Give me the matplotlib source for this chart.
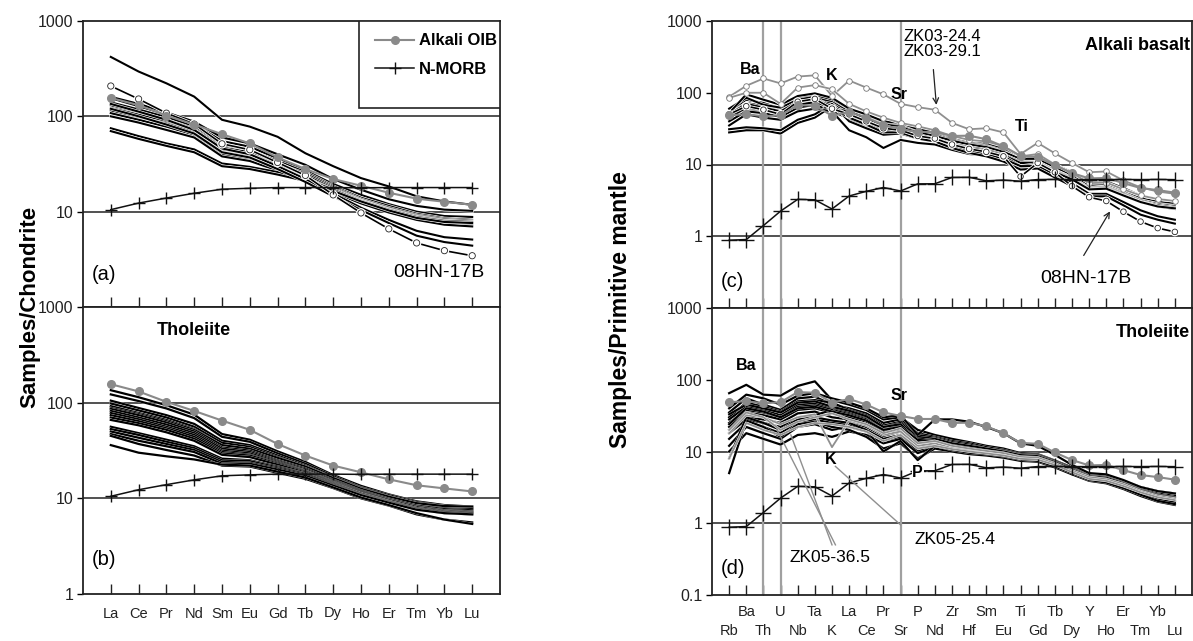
import numpy as np
import matplotlib.pyplot as plt
import matplotlib.patheffects as pe
from matplotlib.patches import Rectangle
from matplotlib.lines import Line2D
from matplotlib.ticker import NullLocator

plt.rcParams['font.family'] = ['Liberation Sans', 'DejaVu Sans']

# element order
ree = ['La', 'Ce', 'Pr', 'Nd', 'Sm', 'Eu', 'Gd', 'Tb', 'Dy', 'Ho', 'Er', 'Tm', 'Yb', 'Lu']
spider = ['Rb', 'Ba', 'Th', 'U', 'Nb', 'Ta', 'K', 'La', 'Ce', 'Pr', 'Sr', 'P', 'Nd', 'Zr',
          'Hf', 'Sm', 'Eu', 'Ti', 'Gd', 'Tb', 'Dy', 'Y', 'Ho', 'Er', 'Tm', 'Yb', 'Lu']

# reference curves
oib_ree = [156, 131, 102, 82, 65, 52, 37, 28, 22, 18.7, 15.8, 13.7, 12.7, 11.8]
nmorb_ree = [10.5, 12.3, 13.9, 15.6, 17.2, 17.6, 17.9, 17.9, 17.9, 17.8, 17.9, 17.9, 17.9, 17.9]
oib_pm = [48.8, 50.1, 47, 48.6, 67.3, 65.9, 48, 53.9, 45.1, 35.1, 31.3, 28.4, 28.4, 25,
          25.2, 22.5, 17.9, 13.2, 12.8, 9.7, 7.6, 6.4, 6.5, 5.5, 4.7, 4.4, 4.05]
nmorb_pm = [0.88, 0.9, 1.41, 2.24, 3.27, 3.22, 2.4, 3.64, 4.23, 4.78, 4.27, 5.37, 5.39, 6.6,
            6.63, 5.92, 6.07, 5.85, 6.17, 6.2, 6.17, 6.15, 6.16, 6.19, 6.16, 6.19, 6.15]

# (a) alkali basalt, chondrite normalised
alk_ree = [
    [420, 295, 222, 161, 92, 78, 61, 41, 30, 22.5, 18.4, 14.5, 12.8, 11.8],
    [155, 128, 104, 84, 55, 48, 36, 27, 19.5, 15, 12, 10, 9, 8.8],
    [140, 118, 98, 78, 50, 44, 34, 26, 18.5, 14, 11.5, 9.5, 8.5, 8.2],
    [130, 110, 92, 74, 47, 42, 32, 25, 18, 13.5, 11, 9.2, 8.3, 8.0],
    [122, 104, 88, 72, 45, 40, 31, 24, 17.5, 13.2, 10.7, 9, 8.1, 7.8],
    [115, 98, 84, 68, 42, 38, 29.5, 23, 17, 13, 10.5, 8.8, 7.9, 7.6],
    [108, 92, 78, 64, 40, 36, 28.5, 22.5, 16.5, 12.6, 10.2, 8.5, 7.6, 7.3],
    [100, 86, 72, 60, 38, 34, 27, 21.5, 16, 12.2, 9.8, 8.2, 7.3, 7.0],
    [75, 62, 52, 45, 32, 29.5, 26, 22, 17, 13, 10.5, 8.8, 8, 7.8],
    [70, 58, 49, 42, 30, 28, 24.5, 21, 16.5, 12.8, 10.3, 8.6, 7.8, 7.6],
    [135, 112, 92, 72, 46, 40, 30, 22, 15.5, 11, 8.2, 6.3, 5.4, 5.1],
    [120, 100, 82, 66, 42, 37, 28, 20.5, 14.5, 10.4, 7.6, 5.6, 4.8, 4.4],
    [160, 135, 110, 88, 60, 52, 40, 31, 22, 17, 13.5, 11.5, 10.5, 10.2],
]
hn17b_ree = [208, 152, 108, 83, 51.5, 44.6, 32.8, 24, 15, 9.7, 6.6, 4.7, 3.9, 3.45]

# (b) tholeiite, chondrite normalised
thol_ree = [
    [135, 114, 94, 75, 47, 41, 31, 24, 17.5, 13.5, 11, 9.3, 8.5, 8.2],
    [122, 104, 87, 69, 44, 39, 29.5, 23, 17, 13, 10.8, 9.1, 8.3, 8.0],
    [105, 88, 74, 60, 40, 36, 28, 22, 16.5, 12.8, 10.5, 8.9, 8.1, 7.9],
    [98, 83, 70, 56, 38, 34.5, 27, 21.5, 16.2, 12.5, 10.3, 8.7, 8.0, 7.8],
    [92, 78, 66, 53, 36, 33, 26, 21, 16, 12.3, 10.1, 8.6, 7.9, 7.7],
    [88, 76, 64, 52, 36, 33, 26.5, 21.5, 16.3, 12.6, 10.4, 8.9, 8.3, 8.2],
    [86, 74, 62, 50, 34, 31.5, 25, 20.5, 15.6, 12.1, 9.9, 8.4, 7.7, 7.5],
    [82, 70, 59, 48, 33, 30.5, 24.5, 20, 15.3, 11.9, 9.7, 8.2, 7.5, 7.3],
    [78, 67, 56, 46, 31.5, 29.5, 24, 19.5, 15, 11.7, 9.6, 8.1, 7.4, 7.2],
    [74, 64, 54, 44, 30.5, 28.5, 23.5, 19.3, 14.8, 11.5, 9.4, 7.9, 7.2, 7.0],
    [70, 61, 52, 42, 29.5, 28, 23, 19, 14.6, 11.3, 9.3, 7.8, 7.1, 6.9],
    [66, 58, 49, 40, 28.5, 27, 22.5, 18.6, 14.4, 11.2, 9.2, 7.7, 7.0, 6.8],
    [56, 48, 41, 35, 26, 25, 21.5, 18.2, 14.2, 11.2, 9.3, 7.9, 7.3, 7.1],
    [53, 46, 39, 33.5, 25, 24.5, 21, 18, 14, 11, 9.2, 7.8, 7.2, 7.0],
    [50, 43, 37, 32, 24, 23.5, 20.5, 17.6, 13.8, 10.9, 9.1, 7.7, 7.1, 6.9],
    [47, 40, 35, 30.5, 23, 23, 20, 17.2, 13.6, 10.8, 9.0, 7.6, 7.0, 6.8],
    [45, 37, 32, 28, 22, 21.5, 18.5, 16, 12.8, 10, 8.4, 6.8, 6.0, 5.6],
    [36, 30, 27.5, 25.5, 22.5, 22, 19, 16.5, 13, 10.2, 8.5, 7.0, 6.0, 5.4],
]

# (c) alkali basalt, primitive mantle normalised
alk_pm = [
    [55, 80, 72, 60, 85, 92, 80, 58, 48, 38, 36, 30, 28, 24, 21, 19, 16, 12, 12.5, 9.5, 7.5, 5.4, 5.6, 4.5, 3.6, 3.2, 3.0],
    [50, 72, 65, 55, 78, 85, 74, 54, 45, 36, 34, 29, 26, 22, 19.5, 18, 15, 11.5, 11.8, 9.0, 7.0, 5.1, 5.3, 4.3, 3.4, 3.0, 2.8],
    [45, 65, 60, 50, 72, 78, 70, 50, 42, 33, 32, 27, 25, 21, 18.5, 17, 14.5, 11, 11.3, 8.6, 6.7, 4.9, 5.1, 4.1, 3.3, 2.9, 2.7],
    [60, 85, 68, 62, 80, 88, 60, 55, 44, 35, 30, 26, 24, 20, 18, 16.5, 14, 10.5, 11, 8.4, 6.6, 4.8, 5.0, 4.0, 3.2, 2.8, 2.6],
    [48, 58, 55, 48, 66, 70, 58, 47, 40, 32, 33, 28, 25, 21.5, 19, 17.5, 15, 12, 12, 9.2, 7.2, 5.2, 5.4, 4.4, 3.5, 3.1, 2.9],
    [40, 55, 52, 46, 62, 68, 55, 44, 37, 30, 31, 26, 23, 19.5, 17.5, 16, 13.8, 10.8, 10.8, 8.3, 6.5, 4.7, 4.9, 3.9, 3.1, 2.7, 2.5],
    [52, 95, 80, 68, 90, 98, 85, 60, 50, 40, 38, 31, 29, 25, 22, 20, 17, 13, 13, 10, 7.8, 5.6, 5.8, 4.7, 3.7, 3.3, 3.1],
    [28, 30, 30, 27, 38, 45, 65, 42, 35, 28, 29, 25, 22, 19, 17, 15.5, 13.5, 10.5, 10.5, 8.2, 6.4, 4.6, 4.8, 3.8, 3.0, 2.7, 2.5],
    [31, 33, 32, 30, 42, 50, 70, 40, 32, 26, 27, 23, 21, 18, 16, 15, 13, 9.5, 10.2, 8.0, 6.3, 4.5, 4.7, 3.7, 3.0, 2.6, 2.4],
    [35, 50, 45, 42, 55, 60, 55, 30, 24, 17, 22, 20, 19, 16, 14, 13.5, 12, 9, 9.8, 7.8, 6.2, 4.5, 4.6, 3.7, 3.0, 2.6, 2.45],
    [50, 70, 62, 55, 75, 80, 65, 48, 38, 30, 30, 25, 22, 18, 15.5, 14, 12, 9.5, 9.5, 7.2, 5.5, 3.9, 3.9, 3.0, 2.3, 1.9, 1.7],
    [45, 62, 58, 50, 68, 74, 62, 45, 36, 28, 28, 23, 21, 17, 14.5, 13, 11, 8.5, 8.8, 6.6, 5.0, 3.6, 3.6, 2.7, 2.0, 1.7, 1.5],
]
zk03_pm = [
    [88, 125, 158, 135, 168, 175, 90, 148, 118, 95, 70, 63, 58, 38, 31, 32, 28, 14, 20, 14.3, 10.5, 7.8, 8.0, 6.0, 4.8, 4.2, 3.9],
    [85, 100, 100, 70, 118, 128, 112, 70, 55, 45, 38, 34, 30, 25, 22, 21, 18, 13, 14, 10, 7.6, 5.5, 5.6, 4.5, 3.7, 3.3, 3.1],
]
hn17b_pm = [50, 65, 58, 50, 75, 82, 60, 50, 40, 32, 30, 25, 23, 19, 16.5, 15, 13, 6.8, 10.5, 7.8,
            5.0, 3.5, 3.1, 2.2, 1.6, 1.3, 1.15]

# (d) tholeiite, primitive mantle normalised
thol_pm = [
    [65, 85, 62, 60, 82, 95, 52, 45, 38, 28, 30, 20, 17, 15, 13.5, 12, 11, 9.5, 9.2, 7.5, 6.0, 4.8, 4.6, 3.9, 3.2, 2.8, 2.6],
    [35, 55, 45, 38, 55, 58, 45, 40, 34, 25, 28, 18, 16, 14, 13, 11.5, 10.5, 9.2, 9.0, 7.4, 5.8, 4.7, 4.5, 3.8, 3.1, 2.7, 2.5],
    [30, 48, 42, 36, 50, 52, 48, 38, 32, 23, 26, 17, 15.5, 13.5, 12.5, 11, 10.2, 9, 8.8, 7.2, 5.7, 4.6, 4.4, 3.7, 3.0, 2.6, 2.4],
    [28, 42, 38, 32, 45, 47, 40, 35, 30, 22, 25, 16, 15, 13, 12, 10.8, 10, 8.8, 8.6, 7.0, 5.6, 4.5, 4.3, 3.6, 2.9, 2.5, 2.3],
    [25, 38, 35, 30, 42, 44, 38, 33, 28, 20, 23, 15, 14.5, 12.5, 11.5, 10.5, 9.7, 8.6, 8.4, 6.9, 5.5, 4.4, 4.2, 3.5, 2.85, 2.45, 2.25],
    [22, 35, 32, 28, 38, 40, 35, 30, 26, 19, 21, 14, 14, 12, 11, 10.2, 9.4, 8.4, 8.2, 6.8, 5.4, 4.35, 4.1, 3.45, 2.8, 2.4, 2.2],
    [20, 30, 28, 25, 34, 36, 30, 28, 24, 18, 20, 13, 13.5, 11.5, 10.6, 10, 9.2, 8.2, 8.0, 6.6, 5.3, 4.3, 4.0, 3.4, 2.75, 2.35, 2.15],
    [18, 28, 25, 22, 30, 32, 38, 26, 22, 16.5, 19, 12, 13, 11, 10.2, 9.6, 9.0, 8.0, 7.8, 6.5, 5.2, 4.2, 3.9, 3.3, 2.7, 2.3, 2.1],
    [15, 25, 22, 18, 26, 28, 25, 24, 20, 15, 17, 11, 12.5, 10.6, 9.8, 9.4, 8.8, 7.8, 7.6, 6.4, 5.1, 4.1, 3.85, 3.25, 2.65, 2.25, 2.05],
    [12, 22, 18, 15, 22, 24, 20, 22, 19, 14, 16, 10, 12, 10.3, 9.5, 9.2, 8.6, 7.6, 7.5, 6.3, 5.0, 4.05, 3.8, 3.2, 2.6, 2.2, 2.0],
    [10, 18, 15, 12.5, 17, 18, 16, 19, 17, 13, 15, 9.5, 11.5, 10, 9.3, 9.0, 8.4, 7.5, 7.4, 6.2, 4.9, 4.0, 3.75, 3.15, 2.55, 2.15, 1.95],
    [5, 27, 22, 16, 24, 26, 22, 20, 16, 11, 13, 8, 11, 10, 9.2, 8.8, 8.2, 7.4, 7.2, 6.0, 4.8, 3.9, 3.6, 3.0, 2.4, 2.0, 1.8],
    [8, 30, 25, 20, 28, 30, 27, 25, 20, 10, 14, 7.6, 12, 10.5, 9.6, 9.2, 8.6, 7.7, 7.4, 6.2, 5.0, 4.0, 3.7, 3.1, 2.5, 2.05, 1.85],
    [40, 62, 55, 45, 60, 65, 55, 48, 40, 30, 32, 17, 28, 28, 26, 22, 18, 13, 12, 9, 6.5, 5, 4.8, 4, 3.2, 2.8, 2.6],
    [33, 45, 40, 35, 48, 50, 42, 37, 31, 22, 24, 14, 15, 13, 12, 11, 10, 8.9, 8.6, 7.1, 5.6, 4.5, 4.3, 3.6, 2.9, 2.5, 2.3],
    [24, 40, 36, 30, 40, 42, 36, 32, 27, 20, 22, 14.5, 14, 12.2, 11.2, 10.3, 9.6, 8.5, 8.3, 6.9, 5.45, 4.4, 4.15, 3.5, 2.85, 2.45, 2.25],
]
zk05_pm = [
    [18, 32, 30, 24, 30, 33, 11.5, 27, 23, 17, 19, 12, 13, 11.2, 10.4, 9.8, 9.1, 8.1, 7.9, 6.6, 5.3, 4.3, 4.0, 3.4, 2.75, 2.35, 2.15],
    [20, 35, 30, 20, 26, 30, 34, 28, 24, 18, 21, 13, 14, 12, 11, 10.2, 9.5, 8.4, 8.2, 6.8, 5.4, 4.4, 4.1, 3.5, 2.8, 2.4, 2.2],
    [8, 25, 20, 17, 22, 25, 24, 22, 19, 14, 17, 11, 12, 10.8, 10, 9.4, 8.8, 7.9, 7.7, 6.5, 5.15, 4.15, 3.9, 3.3, 2.7, 2.3, 2.1],
]

W, H = 1193, 641
fig = plt.figure(figsize=(W / 100, H / 100), dpi=100)


def box(l, t, r, b):
    return [l / W, 1 - b / H, (r - l) / W, (b - t) / H]


ax_a = fig.add_axes(box(83, 21, 500, 307))
ax_b = fig.add_axes(box(83, 307, 500, 594))
ax_c = fig.add_axes(box(712, 21, 1192, 308))
ax_d = fig.add_axes(box(712, 308, 1192, 595))

xr = np.arange(1, len(ree) + 1)
xs = np.arange(1, len(spider) + 1)


def halo(w):
    return [pe.Stroke(linewidth=w, foreground='white'), pe.Normal()]


def setup(ax, n, ylo, yt, grid_at):
    ax.set_yscale('log')
    ax.set_ylim(ylo, 1000)
    ax.set_xlim(0, n + 1)
    ax.set_xticks(range(1, n + 1))
    ax.set_xticklabels([])
    ax.yaxis.set_minor_locator(NullLocator())
    ax.set_yticks(yt)
    ax.set_yticklabels([('%g' % v) for v in yt])
    ax.tick_params(axis='x', direction='in', length=7, width=1, color='#222')
    ax.tick_params(axis='y', direction='out', length=4, width=1, labelsize=11.5,
                   labelcolor='#222', pad=3)
    for s in ax.spines.values():
        s.set_linewidth(1.3)
        s.set_color('#222')
    for g in grid_at:
        ax.axhline(g, color='#333', lw=1.2, zorder=1)


def samples(ax, x, rows, color='black', lw=1.5, z=3, hw=2.4):
    for r in rows:
        ax.plot(x, r, color=color, lw=lw, zorder=z, path_effects=halo(hw))


def refs(ax, x, oib, nmorb, ms_plus=9):
    ax.plot(x, oib, color='#8a8a8a', lw=1.5, marker='o', ms=5.5, mfc='#8a8a8a',
            mec='#8a8a8a', zorder=6)
    ax.plot(x, nmorb, color='#111', lw=1.1, marker='+', ms=ms_plus, mew=1.0, zorder=6)


# ---- (a)
setup(ax_a, 14, 1, [10, 100, 1000], [10, 100])
samples(ax_a, xr, alk_ree)
ax_a.plot(xr, hn17b_ree, color='black', lw=1.2, marker='o', ms=4.5, mfc='white',
          mec='#222', mew=0.6, zorder=5, path_effects=halo(2.4))
refs(ax_a, xr, oib_ree, nmorb_ree)
ax_a.text(0.32, 2.2, '(a)', fontsize=14.5, va='center', ha='left')
ax_a.text(14.45, 2.3, '08HN-17B', fontsize=14, va='center', ha='right')
ax_a.add_patch(Rectangle((0.662, 0.696), 0.338, 0.304, transform=ax_a.transAxes,
                         facecolor='white', edgecolor='#222', lw=1.2, zorder=8))
handles = [Line2D([], [], color='#8a8a8a', lw=1.5, marker='o', ms=5.5),
           Line2D([], [], color='#111', lw=1.1, marker='+', ms=9, mew=1.0)]
leg = ax_a.legend(handles, ['Alkali OIB', 'N-MORB'], loc='upper right',
                  bbox_to_anchor=(1.0, 0.968), frameon=False, handlelength=2.3,
                  handletextpad=0.3, labelspacing=0.8, borderaxespad=0.1,
                  borderpad=0.1, prop={'weight': 'bold', 'size': 12})
leg.set_zorder(9)

# ---- (b)
setup(ax_b, 14, 1, [1, 10, 100, 1000], [10, 100])
samples(ax_b, xr, thol_ree, lw=1.6, hw=1.8)
refs(ax_b, xr, oib_ree, nmorb_ree)
ax_b.set_xticklabels(ree, fontsize=10.5, color='#222')
ax_b.tick_params(axis='x', pad=9)
ax_b.text(0.32, 2.3, '(b)', fontsize=14.5, va='center', ha='left')
ax_b.text(3.98, 565, 'Tholeiite', fontsize=13, weight='bold', va='center', ha='center')

# ---- (c) and (d)
for ax in (ax_c, ax_d):
    for el in ('Th', 'U', 'Sr'):
        ax.axvline(spider.index(el) + 1, color='#a0a0a0', lw=1.6, zorder=2)

setup(ax_c, 27, 0.1, [1, 10, 100, 1000], [1, 10])
samples(ax_c, xs, alk_pm)
samples(ax_c, xs, zk03_pm, color='#8f8f8f', lw=1.3, z=4)
for r in zk03_pm:
    ax_c.plot(xs, r, ls='none', marker='o', ms=4, mfc='white', mec='#777', mew=0.6, zorder=5)
ax_c.plot(xs, hn17b_pm, color='black', lw=1.2, marker='o', ms=4, mfc='white',
          mec='#222', mew=0.6, zorder=5, path_effects=halo(2.4))
refs(ax_c, xs, oib_pm, nmorb_pm, ms_plus=11)
ax_c.text(27.9, 460, 'Alkali basalt', fontsize=13, weight='bold', ha='right', va='center')
ax_c.text(2.2, 210, 'Ba', fontsize=11.5, weight='bold', ha='center', va='center')
ax_c.text(7.0, 175, 'K', fontsize=11.5, weight='bold', ha='center', va='center')
ax_c.text(10.9, 95, 'Sr', fontsize=11.5, weight='bold', ha='center', va='center')
ax_c.text(18.1, 34, 'Ti', fontsize=11.5, weight='bold', ha='center', va='center')
ax_c.text(11.2, 780, 'ZK03-24.4\nZK03-29.1', fontsize=12, ha='left', va='top',
          linespacing=1.0)
ax_c.annotate('', xy=(13.1, 62), xytext=(12.9, 230),
              arrowprops=dict(arrowstyle='->', color='#222', lw=0.9))
ax_c.text(21.8, 0.26, '08HN-17B', fontsize=14, ha='center', va='center')
ax_c.annotate('', xy=(23.3, 2.4), xytext=(21.6, 0.5),
              arrowprops=dict(arrowstyle='->', color='#222', lw=0.9))
ax_c.text(0.5, 0.235, '(c)', fontsize=14.5, ha='left', va='center')

setup(ax_d, 27, 0.1, [0.1, 1, 10, 100, 1000], [1, 10])
samples(ax_d, xs, thol_pm, lw=1.6, hw=1.8)
samples(ax_d, xs, zk05_pm, color='#8f8f8f', lw=1.3, z=4, hw=1.9)
refs(ax_d, xs, oib_pm, nmorb_pm, ms_plus=11)
# two-row element labels: upper row on major ticks, lower row on minor ticks
ax_d.xaxis.remove_overlapping_locs = False
ax_d.set_xticklabels([e if i % 2 else '' for i, e in enumerate(spider)],
                     fontsize=10.5, color='#222')
ax_d.set_xticks(xs[::2], minor=True)
ax_d.set_xticklabels(spider[::2], minor=True, fontsize=10.5, color='#222')
ax_d.tick_params(axis='x', which='major', pad=7)
ax_d.tick_params(axis='x', which='minor', length=0, pad=21)
ax_d.text(27.9, 460, 'Tholeiite', fontsize=13, weight='bold', ha='right', va='center')
ax_d.text(2.0, 160, 'Ba', fontsize=11.5, weight='bold', ha='center', va='center')
ax_d.text(10.9, 60, 'Sr', fontsize=11.5, weight='bold', ha='center', va='center')
ax_d.text(6.9, 7.7, 'K', fontsize=11.5, weight='bold', ha='center', va='center')
ax_d.text(12.0, 5.1, 'P', fontsize=11.5, weight='bold', ha='center', va='center',
          bbox=dict(facecolor='white', edgecolor='none', pad=0.5), zorder=7)
ax_d.plot([11.0, 7.2], [0.95, 6.2], color='#8f8f8f', lw=1.0, zorder=6)
ax_d.plot([7.2, 3.8], [0.5, 20], color='#8f8f8f', lw=1.0, zorder=6)
ax_d.plot([7.0, 4.6], [0.5, 17], color='#8f8f8f', lw=1.0, zorder=6)
ax_d.text(11.8, 0.6, 'ZK05-25.4', fontsize=12.5, ha='left', va='center')
ax_d.text(4.5, 0.33, 'ZK05-36.5', fontsize=12.5, ha='left', va='center')
ax_d.text(0.5, 0.235, '(d)', fontsize=14.5, ha='left', va='center')

fig.text(30 / W, 1 - 307 / H, 'Samples/Chondrite', rotation=90, fontsize=16,
         weight='bold', ha='center', va='center')
fig.text(621 / W, 1 - 310 / H, 'Samples/Primitive mantle', rotation=90, fontsize=16.5,
         weight='bold', ha='center', va='center')

fig.savefig('out.png', dpi=100)
